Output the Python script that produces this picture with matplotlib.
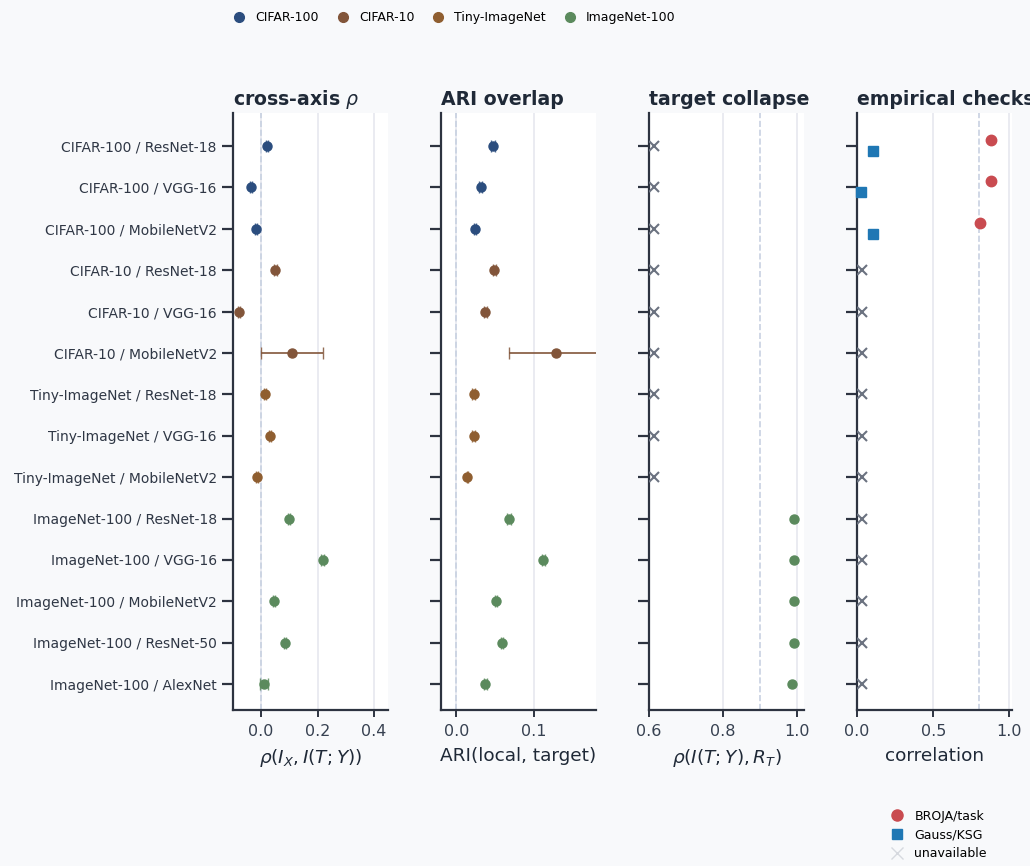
import matplotlib
matplotlib.use('Agg')
import matplotlib.pyplot as plt
from matplotlib.lines import Line2D
import numpy as np

# rows: dataset / architecture
row_labels = [
    'CIFAR-100 / ResNet-18', 'CIFAR-100 / VGG-16', 'CIFAR-100 / MobileNetV2',
    'CIFAR-10 / ResNet-18', 'CIFAR-10 / VGG-16', 'CIFAR-10 / MobileNetV2',
    'Tiny-ImageNet / ResNet-18', 'Tiny-ImageNet / VGG-16', 'Tiny-ImageNet / MobileNetV2',
    'ImageNet-100 / ResNet-18', 'ImageNet-100 / VGG-16', 'ImageNet-100 / MobileNetV2',
    'ImageNet-100 / ResNet-50', 'ImageNet-100 / AlexNet',
]
row_dataset = ['CIFAR-100'] * 3 + ['CIFAR-10'] * 3 + ['Tiny-ImageNet'] * 3 + ['ImageNet-100'] * 5

cross_rho = [0.021, -0.036, -0.018, 0.050, -0.079, 0.111, 0.014, 0.032, -0.014,
             0.100, 0.218, 0.046, 0.086, 0.011]
cross_err = [0.005, 0.004, 0.003, 0.005, 0.004, 0.110, 0.005, 0.005, 0.004,
             0.004, 0.005, 0.004, 0.004, 0.015]
ari = [0.047, 0.031, 0.024, 0.049, 0.037, 0.128, 0.022, 0.022, 0.014,
       0.068, 0.112, 0.051, 0.059, 0.037]
ari_err = [0.0025, 0.002, 0.001, 0.0025, 0.002, 0.060, 0.002, 0.002, 0.001,
           0.0025, 0.002, 0.001, 0.001, 0.002]
# target collapse only for ImageNet-100 rows (others unavailable)
collapse = [None] * 9 + [0.992, 0.992, 0.992, 0.992, 0.986]
# empirical checks: only CIFAR-100 rows
broja = [0.877, 0.877, 0.805] + [None] * 11
gauss = [0.104, 0.026, 0.104] + [None] * 11

dataset_colors = {
    'CIFAR-100': '#2b4d7e',
    'CIFAR-10': '#82553a',
    'Tiny-ImageNet': '#8f5e30',
    'ImageNet-100': '#5b8a5d',
}

BG = '#f8f9fb'
SPINE = '#2d3340'
GRID = '#e6e8ef'
REF = '#c8d1e1'
XGRAY = '#6b7280'

plt.rcParams['font.family'] = ['DejaVu Sans']
fig, axes = plt.subplots(1, 4, figsize=(10.3, 8.66), dpi=100, sharey=True)
fig.patch.set_facecolor(BG)
fig.subplots_adjust(left=0.226, right=0.983, top=0.8695, bottom=0.18, wspace=0.34)

y = np.arange(len(row_labels))

titles = ['cross-axis $\\rho$', 'ARI overlap', 'target collapse', 'empirical checks']
xlabels = ['$\\rho(I_X, I(T;Y))$', 'ARI(local, target)', '$\\rho(I(T;Y), R_T)$', 'correlation']
xlims = [(-0.1, 0.45), (-0.02, 0.18), (0.6, 1.02), (0.0, 1.02)]
xticks = [[0.0, 0.2, 0.4], [0.0, 0.1], [0.6, 0.8, 1.0], [0.0, 0.5, 1.0]]
refs = [0.0, 0.0, 0.9, 0.8]

for ax, title, xl, lim, ticks, ref in zip(axes, titles, xlabels, xlims, xticks, refs):
    ax.set_facecolor('white')
    for s in ['top', 'right']:
        ax.spines[s].set_visible(False)
    for s in ['left', 'bottom']:
        ax.spines[s].set_color(SPINE)
        ax.spines[s].set_linewidth(1.6)
    ax.set_xlim(*lim)
    ax.set_xticks(ticks)
    ax.set_xticklabels([f'{t:.1f}' for t in ticks])
    ax.xaxis.grid(True, color=GRID, linewidth=1.2, zorder=0)
    ax.set_axisbelow(True)
    ax.axvline(ref, color=REF, linestyle='--', linewidth=1.2, zorder=1)
    ax.set_title(title, loc='left', fontsize=13.6, fontweight='bold', color='#1f2937', pad=6)
    ax.set_xlabel(xl, fontsize=13.3, color='#1f2937', labelpad=6)
    ax.tick_params(axis='x', labelsize=11.5, colors=SPINE, labelcolor='#374151', length=5,
                   width=1.4, pad=5)
    ax.tick_params(axis='y', length=8, width=1.6, colors=SPINE, labelcolor='#2f3745')

axes[0].set_yticks(y)
axes[0].set_yticklabels(row_labels, fontsize=10)
axes[0].set_ylim(13.63, -0.8)

for i, ds in enumerate(row_dataset):
    c = dataset_colors[ds]
    axes[0].errorbar(cross_rho[i], y[i], xerr=cross_err[i], fmt='none', ecolor=c,
                     alpha=0.85, capsize=4, elinewidth=1.4, zorder=3)
    axes[0].plot(cross_rho[i], y[i], 'o', color=c, markersize=6.5, zorder=4)
    axes[1].errorbar(ari[i], y[i], xerr=ari_err[i], fmt='none', ecolor=c,
                     alpha=0.85, capsize=4, elinewidth=1.4, zorder=3)
    axes[1].plot(ari[i], y[i], 'o', color=c, markersize=6.5, zorder=4)

    if collapse[i] is None:
        axes[2].plot(0.614, y[i], 'x', color=XGRAY, markersize=7, markeredgewidth=1.5, zorder=4)
    else:
        axes[2].plot(collapse[i], y[i], 'o', color=c, markersize=6.5, zorder=4)

    if broja[i] is None:
        axes[3].plot(0.03, y[i], 'x', color=XGRAY, markersize=7, markeredgewidth=1.5, zorder=4)
    else:
        axes[3].plot(broja[i], y[i] - 0.15, 'o', color='#c94b50', markersize=7.5, zorder=4,
                     clip_on=False)
        axes[3].plot(gauss[i], y[i] + 0.12, 's', color='#1f77b4', markersize=7, zorder=4,
                     clip_on=False)

# top legend: datasets
ds_handles = [Line2D([], [], marker='o', linestyle='none', color=col, markersize=7, label=name)
              for name, col in dataset_colors.items()]
fig.legend(handles=ds_handles, loc='upper center', bbox_to_anchor=(0.438, 1.0), ncol=4,
           frameon=False, fontsize=9, handletextpad=0.3, columnspacing=0.9)

# bottom-right legend: empirical marker meaning
emp_handles = [
    Line2D([], [], marker='o', linestyle='none', color='#c94b50', markersize=8, label='BROJA/task'),
    Line2D([], [], marker='s', linestyle='none', color='#1f77b4', markersize=7.5, label='Gauss/KSG'),
    Line2D([], [], marker='x', linestyle='none', color='#d6d9df', markersize=9, label='unavailable'),
]
fig.legend(handles=emp_handles, loc='lower right', bbox_to_anchor=(0.969, -0.006), frameon=False,
           fontsize=9, handletextpad=0.4, labelspacing=0.45)

fig.savefig('out.png', dpi=100, facecolor=BG)
